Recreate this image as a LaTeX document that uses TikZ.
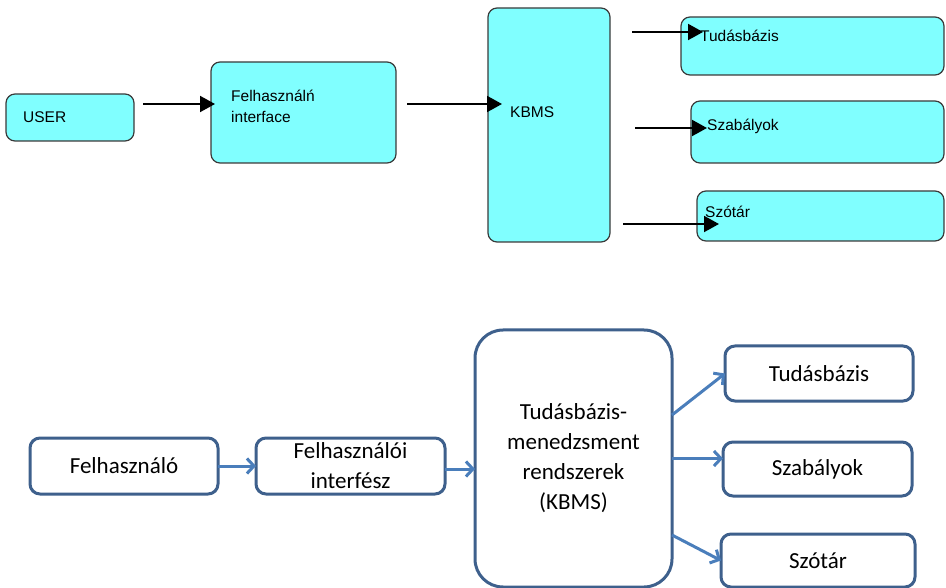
\documentclass[tikz,border=0pt]{standalone}
\usepackage{fontspec}
\setmainfont{Liberation Sans}
\newfontfamily\calibrifont{Carlito}
\usetikzlibrary{arrows.meta,calc}
\definecolor{boxcyan}{HTML}{80FFFF}
\definecolor{darkedge}{HTML}{3A3A3A}
\definecolor{blueedge}{RGB}{62,96,140}
\definecolor{bluearrow}{RGB}{74,126,187}
\begin{document}
\begin{tikzpicture}[x=1pt,y=-1pt,
  oldbox/.style={draw=darkedge,fill=boxcyan,line width=1.2pt,rounded corners=9pt,
    inner sep=0pt,outer sep=0pt},
  oldtext/.style={anchor=west,inner sep=0pt,font=\fontsize{15.5}{21}\selectfont,align=left},
  oldarrow/.style={line width=2pt,-{Triangle[length=15pt,width=16pt]}},
  newbox/.style={draw=blueedge,fill=white,line width=3pt,rounded corners=10pt,
    inner sep=0pt,outer sep=0pt,align=center,
    font=\calibrifont\fontsize{23}{30}\selectfont},
  newarrow/.style={draw=bluearrow,line width=3pt,-{Straight Barb[length=7pt,width=15pt]}}]
\useasboundingbox (0,0) rectangle (946,588);

% ---------- upper diagram ----------
\node[oldbox,minimum width=128pt,minimum height=47pt]  (user) at (70,117.5) {};
\node[oldbox,minimum width=185pt,minimum height=101pt] (fi)   at (303.5,112.5) {};
\node[oldbox,minimum width=122pt,minimum height=234pt] (kb)   at (549,125) {};
\node[oldbox,minimum width=263pt,minimum height=58pt]  (tb)   at (812.5,46) {};
\node[oldbox,minimum width=253pt,minimum height=62pt]  (sb)   at (817.5,132) {};
\node[oldbox,minimum width=247pt,minimum height=50pt]  (sz)   at (820.5,216) {};

\node[oldtext] (usert) at (23,117.5) {USER};
\node[oldtext] (fit)   at (231,106) {Felhasználń\\interface};
\node[oldtext] (kbt)   at (510,112) {KBMS};
\node[oldtext] (tbt)   at (700,36)  {Tudásbázis};
\node[oldtext] (sbt)   at (707,126) {Szabályok};
\node[oldtext] (szt)   at (705,212) {Szótár};

\coordinate (a1s) at (143,104); \coordinate (a1e) at (215,104);
\coordinate (a2s) at (407,104); \coordinate (a2e) at (502,104);
\coordinate (a3s) at (632,32);  \coordinate (a3e) at (703,32);
\coordinate (a4s) at (635,128); \coordinate (a4e) at (707,128);
\coordinate (a5s) at (623,224); \coordinate (a5e) at (719,224);
\draw[oldarrow] (a1s) -- (a1e);
\draw[oldarrow] (a2s) -- (a2e);
\draw[oldarrow] (a3s) -- (a3e);
\draw[oldarrow] (a4s) -- (a4e);
\draw[oldarrow] (a5s) -- (a5e);

% ---------- lower diagram ----------
\node[newbox,minimum width=188pt,minimum height=56pt] (u2)  at (124,466) {Felhasználó};
\node[newbox,minimum width=189pt,minimum height=56pt] (fi2) at (350.5,466) {Felhasználói\\interfész};
\node[newbox,minimum width=197pt,minimum height=257pt,rounded corners=28pt] (kb2) at (573.5,458.5)
  {Tudásbázis-\\menedzsment\\rendszerek\\(KBMS)};
\node[newbox,minimum width=188pt,minimum height=55pt] (tb2) at (819,373.5) {Tudásbázis};
\node[newbox,minimum width=189pt,minimum height=54pt] (sb2) at (817.5,469) {Szabályok};
\node[newbox,minimum width=194pt,minimum height=53pt] (sz2) at (818,560.5) {Szótár};

\draw[newarrow] (u2.east) -- (fi2.west);
\draw[newarrow] ($(fi2.east)+(0,3)$) -- ($(fi2.east -| kb2.west)+(0,3)$);
\draw[newarrow] ($(kb2.east)+(0,-43.5)$) -- (tb2.west);
\draw[newarrow] (kb2.east) -- (kb2.east -| sb2.west);
\draw[newarrow] ($(kb2.east)+(0,76.5)$) -- (sz2.west);
\end{tikzpicture}
\end{document}
